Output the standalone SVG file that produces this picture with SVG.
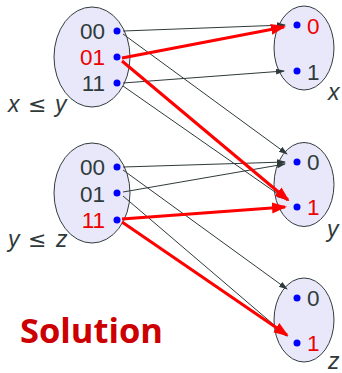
<svg xmlns="http://www.w3.org/2000/svg" width="342" height="373" viewBox="0 0 342 373">
  <defs>
    <marker id="ah" markerUnits="userSpaceOnUse" markerWidth="9" markerHeight="7" refX="8" refY="3" orient="auto">
      <path d="M0,0 L9,3 L0,6 z" fill="#2f3a3a"/>
    </marker>
    <marker id="ahRed" markerUnits="userSpaceOnUse" markerWidth="15" markerHeight="12" refX="13" refY="5.5" orient="auto">
      <path d="M0,0 L15,5.5 L0,11 z" fill="#ff0000"/>
    </marker>
  </defs>
  <style>
    .set { fill: #e8e8fa; stroke: #333c3c; stroke-width: 1; }
    .dot { fill: #0000ff; }
    .val { font-family: "Liberation Sans", Arial, sans-serif; font-size: 22.5px; fill: #2f3a3a; }
    .hit { fill: #ee0000; }
    .lbl { font-family: "Liberation Sans", Arial, sans-serif; font-size: 23px; fill: #2f3a3a; }
    .rel { font-family: "DejaVu Sans", sans-serif; font-size: 22px; fill: #2f3a3a; }
    .it { font-style: italic; }
    .thin { stroke: #2f3a3a; stroke-width: 1; fill: none; marker-end: url(#ah); }
    .sol { stroke: #ff0000; stroke-width: 3; fill: none; marker-end: url(#ahRed); }
  </style>

  <!-- constraint x <= y -->
  <g id="rel-xy">
    <ellipse class="set" cx="92" cy="57" rx="38" ry="50"/>
    <text class="val" x="105" y="38.5" text-anchor="end">00</text>
    <text class="val hit" x="105" y="64.5" text-anchor="end">01</text>
    <text class="val" x="105" y="91" text-anchor="end">11</text>
    <circle class="dot" cx="117" cy="31" r="3.5"/>
    <circle class="dot" cx="117" cy="57" r="3.5"/>
    <circle class="dot" cx="117" cy="83" r="3.5"/>
    <text class="lbl it" x="8" y="112">x</text>
    <text class="rel" x="28" y="112">≤</text>
    <text class="lbl it" x="55" y="112">y</text>
  </g>

  <!-- constraint y <= z -->
  <g id="rel-yz">
    <ellipse class="set" cx="92" cy="193" rx="38" ry="50"/>
    <text class="val" x="105" y="175" text-anchor="end">00</text>
    <text class="val" x="105" y="201.5" text-anchor="end">01</text>
    <text class="val hit" x="105" y="228" text-anchor="end">11</text>
    <circle class="dot" cx="117" cy="167" r="3.5"/>
    <circle class="dot" cx="117" cy="193" r="3.5"/>
    <circle class="dot" cx="117" cy="220" r="3.5"/>
    <text class="lbl it" x="8" y="247">y</text>
    <text class="rel" x="28" y="247">≤</text>
    <text class="lbl it" x="56" y="247">z</text>
  </g>

  <!-- variable x -->
  <g id="var-x">
    <ellipse class="set" cx="304" cy="48" rx="30" ry="42"/>
    <circle class="dot" cx="297" cy="25" r="3.5"/>
    <circle class="dot" cx="297" cy="71" r="3.5"/>
    <text class="val hit" x="307" y="33.5">0</text>
    <text class="val" x="307" y="79.5">1</text>
    <text class="lbl it" x="328" y="100">x</text>
  </g>

  <!-- variable y -->
  <g id="var-y">
    <ellipse class="set" cx="304" cy="184.5" rx="30" ry="42"/>
    <circle class="dot" cx="297" cy="162" r="3.5"/>
    <circle class="dot" cx="297" cy="207" r="3.5"/>
    <text class="val" x="307" y="170">0</text>
    <text class="val hit" x="307" y="215">1</text>
    <text class="lbl it" x="327" y="237">y</text>
  </g>

  <!-- variable z -->
  <g id="var-z">
    <ellipse class="set" cx="304" cy="320" rx="30" ry="42"/>
    <circle class="dot" cx="297" cy="298" r="3.5"/>
    <circle class="dot" cx="297" cy="343" r="3.5"/>
    <text class="val" x="307" y="306">0</text>
    <text class="val hit" x="307" y="351">1</text>
    <text class="lbl it" x="328" y="369">z</text>
  </g>

  <!-- projections of tuples onto variable values -->
  <g id="connectors">
    <line class="thin" x1="123" y1="31" x2="285" y2="25"/>
    <line class="thin" x1="123" y1="34" x2="287" y2="154"/>
    <line class="thin" x1="123" y1="83" x2="284" y2="71"/>
    <line class="thin" x1="123" y1="86" x2="285" y2="199"/>
    <line class="thin" x1="123" y1="167" x2="285" y2="162"/>
    <line class="thin" x1="123" y1="192" x2="285" y2="164"/>
    <line class="thin" x1="123" y1="170" x2="287" y2="289"/>
    <line class="thin" x1="123" y1="196" x2="287" y2="336"/>
    <line class="sol" x1="122" y1="58" x2="284" y2="27"/>
    <line class="sol" x1="122" y1="61" x2="288" y2="200"/>
    <line class="sol" x1="122" y1="219" x2="285" y2="207"/>
    <line class="sol" x1="122" y1="222" x2="287" y2="335"/>
  </g>

  <text x="20" y="343" font-family="'Open Sans', 'Noto Sans', sans-serif" font-weight="bold" font-size="34" fill="#cc0000" textLength="143" lengthAdjust="spacingAndGlyphs">Solution</text>
</svg>
